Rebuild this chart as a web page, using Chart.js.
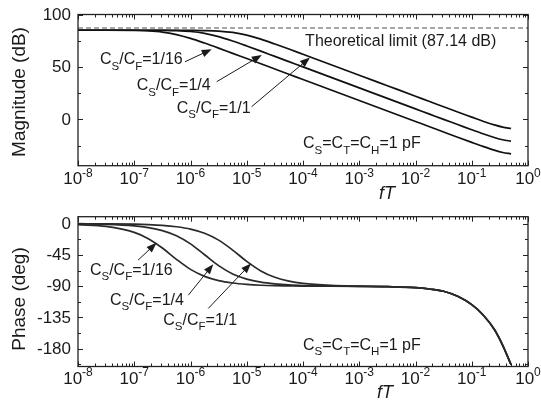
<!DOCTYPE html>
<html>
<head>
<meta charset="utf-8">
<script src="https://cdn.jsdelivr.net/npm/chart.js@4.4.1/dist/chart.umd.min.js"></script>
<style>
  html, body { margin: 0; padding: 0; background: #fff; }
  canvas { display: block; }
</style>
</head>
<body>
<canvas id="mag" width="541" height="205"></canvas>
<canvas id="phase" width="541" height="205"></canvas>
<script>
// Normalised frequency fT
const fT = [1e-8, 3.16e-8, 1e-7, 1.78e-7, 3.16e-7, 5.62e-7, 1e-6, 1.78e-6, 3.16e-6, 5.62e-6,
            1e-5, 1.78e-5, 3.16e-5, 5.62e-5, 1e-4, 3.16e-4, 1e-3, 3.16e-3, 1e-2, 1.78e-2,
            3.16e-2, 5.62e-2, 0.1, 0.158, 0.251, 0.355, 0.5];

// Magnitude (dB) for CS/CF = 1/16, 1/4, 1/1
const mag16 = [85.0, 85.0, 84.8, 84.4, 83.3, 80.9, 77.3, 72.8, 68.0, 63.0,
               58.1, 53.1, 48.1, 43.1, 38.1, 28.1, 18.1, 8.1, -1.9, -6.9,
               -11.9, -16.9, -21.8, -25.6, -29.2, -31.4, -32.7];
const mag4  = [85.0, 85.0, 85.0, 85.0, 84.9, 84.6, 83.8, 82.0, 78.9, 74.7,
               70.0, 65.1, 60.1, 55.1, 50.1, 40.1, 30.1, 20.1, 10.1, 5.1,
               0.1, -4.8, -9.8, -13.6, -17.1, -19.3, -20.7];
const mag1  = [85.0, 85.0, 85.0, 85.0, 85.0, 85.0, 84.9, 84.7, 84.2, 82.9,
               80.3, 76.5, 71.9, 67.1, 62.1, 52.1, 42.2, 32.2, 22.2, 17.1,
               12.2, 7.2, 2.3, -1.6, -5.1, -7.3, -8.6];

// Phase (deg) for CS/CF = 1/16, 1/4, 1/1
const ph16 = [-1.3, -4.0, -12.5, -21.6, -35.1, -51.3, -65.8, -75.8, -81.9, -85.4,
              -87.4, -88.6, -89.2, -89.5, -89.8, -90.0, -90.3, -90.7, -92.0, -94.0,
              -97.2, -104.5, -116.5, -131, -152, -175, -203];
const ph4  = [-0.3, -1.0, -3.2, -5.7, -10.0, -17.4, -29.1, -44.7, -60.4, -72.3,
              -79.8, -84.2, -86.7, -88.2, -89.0, -89.8, -90.2, -90.7, -92.0, -94.0,
              -97.2, -104.5, -116.5, -131, -152, -175, -203];
const ph1  = [-0.1, -0.3, -0.8, -1.4, -2.5, -4.5, -7.9, -13.9, -23.7, -38.0,
              -54.3, -68.0, -77.2, -82.7, -85.9, -88.8, -89.9, -90.6, -92.0, -94.0,
              -97.2, -104.5, -116.5, -131, -152, -175, -203];

const theoreticalLimit = 87.14;

// Axis ticks
const decadeTicks = [1e-8, 1e-7, 1e-6, 1e-5, 1e-4, 1e-3, 1e-2, 1e-1, 1];
const decadeExponents = ['-8', '-7', '-6', '-5', '-4', '-3', '-2', '-1', '0'];
const magTicks = [100, 50, 0];
const magMinorTicks = [75, 25, -25];
const phaseTicks = [0, -45, -90, -135, -180];
const phaseMinorTicks = [-22.5, -67.5, -112.5, -157.5, -202.5];

// Text annotations (anchored in data coordinates)
const ratioLabels = ['1/16', '1/4', '1/1'];
const magLabelAt   = [[2.46e-8, 56.7], [1.11e-7, 31.9], [5.69e-7, 10.7]];
const magArrowFrom = [[7.98e-7, 55.0], [2.92e-6, 36.0], [1.22e-5, 12.2]];
const magArrowTo   = [[2.38e-6, 66.9], [1.85e-5, 61.4], [1.33e-4, 59.0]];
const phLabelAt    = [[1.63e-8, -66.9], [3.71e-8, -110], [3.28e-7, -138.8]];
const phArrowFrom  = [[1.17e-7, -52.5], [9.14e-7, -102.9], [2.07e-6, -122]];
const phArrowTo    = [[2.49e-7, -27.6], [2.54e-6, -58.3], [1.19e-5, -57.3]];
const limitText = 'Theoretical limit (87.14 dB)';
const limitTextAt = [1.09e-4, 73.8];
const capsNoteAt = [[1e-4, -23.3], [1e-4, -175.5]];

const FONT = '"Liberation Sans", Arial, Helvetica, sans-serif';
const INK = '#1a1a1a';

function series(ys) { return fT.map((x, i) => ({ x, y: ys[i] })); }

function lineSet(ys, color) {
  return { data: series(ys), borderColor: color, borderWidth: 1.7, pointRadius: 0,
           cubicInterpolationMode: 'monotone', fill: false };
}

// Draws text made of plain / subscript / superscript pieces, left-aligned, middle baseline
function richText(ctx, x, y, parts, size) {
  let cx = x;
  for (const [t, mode] of parts) {
    const fs = mode ? size * 0.72 : size;
    ctx.font = `${fs}px ${FONT}`;
    const dy = mode === 'sub' ? size * 0.4 : mode === 'sup' ? -size * 0.35 : 0;
    ctx.fillText(t, cx, y + dy);
    cx += ctx.measureText(t).width;
  }
  return cx - x;
}

function ratioParts(r) { return [['C'], ['S', 'sub'], ['/C'], ['F', 'sub'], ['=' + r]]; }
const capsParts = [['C'], ['S', 'sub'], ['=C'], ['T', 'sub'], ['=C'], ['H', 'sub'], ['=1 pF']];

function arrow(ctx, x0, y0, x1, y1) {
  const a = Math.atan2(y1 - y0, x1 - x0);
  const L = 10, W = 3.8;
  ctx.beginPath();
  ctx.moveTo(x0, y0);
  ctx.lineTo(x1 - L * 0.8 * Math.cos(a), y1 - L * 0.8 * Math.sin(a));
  ctx.lineWidth = 1;
  ctx.strokeStyle = INK;
  ctx.stroke();
  ctx.beginPath();
  ctx.moveTo(x1, y1);
  ctx.lineTo(x1 - L * Math.cos(a) + W * Math.sin(a), y1 - L * Math.sin(a) - W * Math.cos(a));
  ctx.lineTo(x1 - L * Math.cos(a) - W * Math.sin(a), y1 - L * Math.sin(a) + W * Math.cos(a));
  ctx.closePath();
  ctx.fillStyle = INK;
  ctx.fill();
}

// Frame, inward ticks, tick labels, titles and annotations
function decorations(cfg) {
  return {
    id: 'decor',
    afterDraw(chart) {
      const { ctx, chartArea: a, scales: { x, y } } = chart;
      ctx.save();
      ctx.strokeStyle = '#222';
      ctx.lineWidth = 1.3;
      ctx.strokeRect(a.left, a.top, a.right - a.left, a.bottom - a.top);

      ctx.beginPath();
      ctx.lineWidth = 1;
      const xTick = (v, len) => {
        const px = Math.round(x.getPixelForValue(v)) + 0.5;
        ctx.moveTo(px, a.bottom); ctx.lineTo(px, a.bottom - len);
        ctx.moveTo(px, a.top); ctx.lineTo(px, a.top + len);
      };
      const yTick = (v, len) => {
        const py = Math.round(y.getPixelForValue(v)) + 0.5;
        ctx.moveTo(a.left, py); ctx.lineTo(a.left + len, py);
        ctx.moveTo(a.right, py); ctx.lineTo(a.right - len, py);
      };
      decadeTicks.forEach((d, i) => {
        xTick(d, 5);
        if (i < decadeTicks.length - 1) for (let k = 2; k <= 9; k++) xTick(d * k, 3);
      });
      cfg.yTicks.forEach(v => yTick(v, 5));
      cfg.yMinor.forEach(v => yTick(v, 3));
      ctx.stroke();

      ctx.fillStyle = INK;
      ctx.textBaseline = 'middle';

      // x tick labels 10^n
      decadeTicks.forEach((d, i) => {
        ctx.font = `17px ${FONT}`;
        const wb = ctx.measureText('10').width;
        ctx.font = `12px ${FONT}`;
        const we = ctx.measureText(decadeExponents[i]).width;
        const left = x.getPixelForValue(d) - (wb + we) / 2;
        const cy = a.bottom + cfg.xLabelGap;
        ctx.font = `17px ${FONT}`;
        ctx.fillText('10', left, cy);
        ctx.font = `12px ${FONT}`;
        ctx.fillText(decadeExponents[i], left + wb, cy - 6);
      });

      // y tick labels
      ctx.textAlign = 'right';
      ctx.font = `17px ${FONT}`;
      cfg.yTicks.forEach(v => ctx.fillText(String(v), a.left - 7, y.getPixelForValue(v) + 0.5));

      // y title
      ctx.save();
      ctx.translate(20, cfg.yTitleY);
      ctx.rotate(-Math.PI / 2);
      ctx.textAlign = 'center';
      ctx.font = `19px ${FONT}`;
      ctx.fillText(cfg.yTitle, 0, 0);
      ctx.restore();

      // x title
      ctx.textAlign = 'center';
      ctx.font = `italic 18px ${FONT}`;
      ctx.fillText('fT', cfg.xTitle[0], cfg.xTitle[1]);

      // annotations
      ctx.textAlign = 'left';
      const P = (p) => [x.getPixelForValue(p[0]), y.getPixelForValue(p[1])];
      ratioLabels.forEach((r, i) => {
        const [lx, ly] = P(cfg.labelAt[i]);
        ctx.fillStyle = INK;
        richText(ctx, lx, ly, ratioParts(r), 16);
        const [fx, fy] = P(cfg.arrowFrom[i]);
        const [tx, ty] = P(cfg.arrowTo[i]);
        arrow(ctx, fx, fy, tx, ty);
      });
      ctx.fillStyle = INK;
      const [cx, cy] = P(cfg.capsAt);
      richText(ctx, cx, cy, capsParts, 16);
      if (cfg.limit) {
        const [tx, ty] = P(limitTextAt);
        ctx.font = `16px ${FONT}`;
        ctx.fillText(limitText, tx, ty);
      }
      ctx.restore();
    }
  };
}

function makeChart(id, datasets, yMin, yMax, padding, cfg) {
  return new Chart(document.getElementById(id), {
    type: 'line',
    data: { datasets },
    options: {
      responsive: false,
      animation: false,
      devicePixelRatio: 1,
      parsing: true,
      layout: { padding },
      plugins: { legend: { display: false }, tooltip: { enabled: false } },
      scales: {
        x: { type: 'logarithmic', min: 1e-8, max: 1, display: false },
        y: { type: 'linear', min: yMin, max: yMax, display: false }
      }
    },
    plugins: [decorations(cfg)]
  });
}

makeChart('mag', [
  { data: [{ x: 1e-8, y: theoreticalLimit }, { x: 1, y: theoreticalLimit }],
    borderColor: '#8a8a8a', borderWidth: 1.3, borderDash: [5, 3], pointRadius: 0 },
  lineSet(mag16, '#111'),
  lineSet(mag4, '#111'),
  lineSet(mag1, '#111')
], -44, 100, { left: 78, right: 13, top: 14.5, bottom: 39.3 }, {
  yTicks: magTicks, yMinor: magMinorTicks, yTitle: 'Magnitude (dB)', yTitleY: 92,
  xLabelGap: 14, xTitle: [387, 194],
  labelAt: magLabelAt, arrowFrom: magArrowFrom, arrowTo: magArrowTo,
  capsAt: capsNoteAt[0], limit: true
});

makeChart('phase', [
  lineSet(ph16, '#2a2a2a'),
  lineSet(ph4, '#2a2a2a'),
  lineSet(ph1, '#2a2a2a')
], -205.5, 10, { left: 78, right: 13, top: 11.7, bottom: 43.5 }, {
  yTicks: phaseTicks, yMinor: phaseMinorTicks, yTitle: 'Phase (deg)', yTitleY: 94,
  xLabelGap: 12.5, xTitle: [385, 188],
  labelAt: phLabelAt, arrowFrom: phArrowFrom, arrowTo: phArrowTo,
  capsAt: capsNoteAt[1], limit: false
});
</script>
</body>
</html>
